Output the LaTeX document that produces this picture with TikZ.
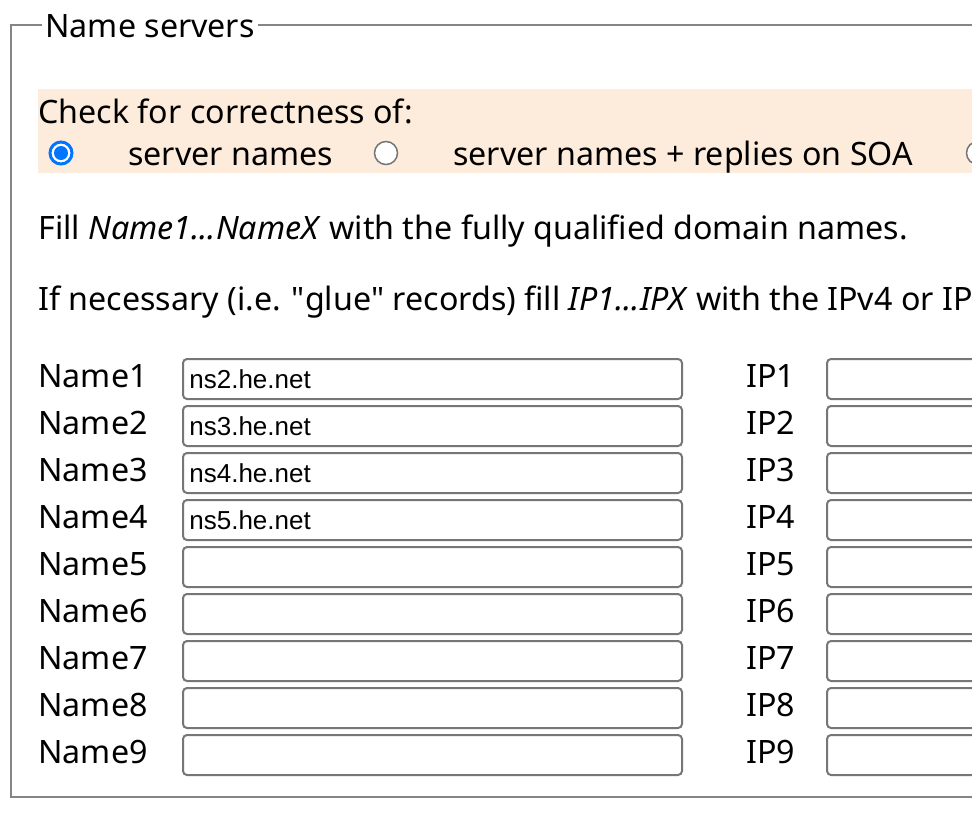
\documentclass[tikz,border=0pt]{standalone}
\usepackage{fontspec}
\setmainfont{Noto Sans}
\newfontfamily\fieldfont{Liberation Sans}
\usepackage{tikz}
\usetikzlibrary{positioning}

\definecolor{framegray}{HTML}{858585}
\definecolor{fieldgray}{HTML}{767676}
\definecolor{bandpeach}{HTML}{FDEBDC}
\definecolor{radioblue}{HTML}{0075FF}

\newcommand{\uisize}{\fontsize{16.1}{19}\selectfont}

\tikzset{
  txt/.style={anchor=base west, inner sep=0pt, font=\uisize},
  field/.style={draw=fieldgray, fill=white, line width=1pt, rounded corners=2pt,
    anchor=north west, minimum width=249.5pt, minimum height=20pt, inner sep=0pt},
  ipfield/.style={field, minimum width=120pt},
  fieldtext/.style={anchor=west, inner sep=0pt, font=\fieldfont\fontsize{13}{15}\selectfont},
  radiooff/.style={circle, draw=fieldgray, line width=0.75pt, fill=white,
    minimum size=11.5pt, inner sep=0pt},
  radioon/.style={circle, draw=radioblue, line width=1.5pt, fill=white,
    minimum size=11pt, inner sep=0pt},
  radiodot/.style={circle, fill=radioblue, minimum size=7pt, inner sep=0pt}
}

\begin{document}
\begin{tikzpicture}[x=0.5pt, y=-0.5pt]
\clip (0,0) rectangle (972,815);
\fill[white] (0,0) rectangle (972,815);

% Fieldset frame and legend
\draw[framegray, line width=1.2pt] (11,25) rectangle (1000,797);
\node[txt, fill=white, inner xsep=1.5pt] (legend) at (42,37) {Name servers};

% Check mode
\fill[bandpeach] (38,89) rectangle (1000,173);
\node[txt] (check) at (38,123) {Check for correctness of:};
\node[radioon] (r1) at (61,153) {};
\node[radiodot] at (r1) {};
\node[txt] (t1) at (128,165) {server names};
\node[radiooff] (r2) at (386,153) {};
\node[txt] (t2) at (453,165) {server names + replies on SOA};
\node[radiooff] (r3) at (978,153) {};

% Hints
\node[txt] (fill) at (38,239) {Fill \textit{Name1...NameX} with the fully qualified domain names.};
\node[txt] (glue) at (38,310) {If necessary (i.e. \textquotedbl glue\textquotedbl{} records) fill \textit{IP1...IPX} with the IPv4 or IP};

% Rows
\foreach \i in {1,...,9} {
  \pgfmathsetmacro{\top}{358+47*(\i-1)}
  \node[txt] (nl\i) at (38,\top+29) {Name\i};
  \node[field] (n\i) at (182,\top) {};
  \node[txt] (il\i) at (746,\top+29) {IP\i};
  \node[ipfield] (ip\i) at (826,\top) {};
}
\foreach \i/\h in {1/ns2,2/ns3,3/ns4,4/ns5}
  \node[fieldtext, right=3.5pt of n\i.west] (h\i) {\h.he.net};
\end{tikzpicture}
\end{document}
